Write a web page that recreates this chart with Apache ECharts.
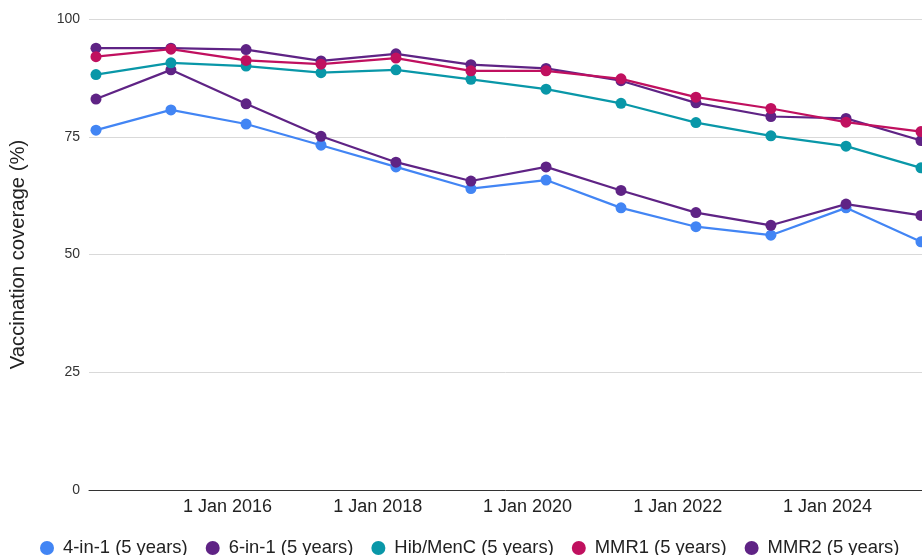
<!DOCTYPE html>
<html>
<head>
<meta charset="utf-8">
<title>Vaccination coverage at 5 years</title>
<script src="https://cdn.jsdelivr.net/npm/echarts@6/dist/echarts.min.js"></script>
<style>
  html, body { margin: 0; padding: 0; background: #ffffff; }
  #chart { width: 922px; height: 555px; }
</style>
</head>
<body>
<div id="chart"></div>
<script>
// Annual figures, recorded at the end of March each year
const periods = ['2014-03-31', '2015-03-31', '2016-03-31', '2017-03-31', '2018-03-31', '2019-03-31',
                 '2020-03-31', '2021-03-31', '2022-03-31', '2023-03-31', '2024-03-31', '2025-03-31'];

const fourInOne = [76.4, 80.7, 77.7, 73.2, 68.6, 64.0, 65.8, 59.9, 55.9, 54.1, 59.9, 52.7];
const sixInOne  = [83.0, 89.2, 82.0, 75.1, 69.6, 65.6, 68.6, 63.6, 58.9, 56.2, 60.7, 58.3];
const hibMenC   = [88.2, 90.7, 90.0, 88.6, 89.2, 87.2, 85.1, 82.1, 78.0, 75.2, 73.0, 68.4];
const mmr1      = [92.0, 93.6, 91.2, 90.4, 91.7, 89.0, 89.0, 87.3, 83.4, 81.0, 78.1, 76.1];
const mmr2      = [93.8, 93.8, 93.5, 91.1, 92.6, 90.3, 89.5, 86.9, 82.2, 79.3, 78.9, 74.2];

const seriesNames = ['4-in-1 (5 years)', '6-in-1 (5 years)', 'Hib/MenC (5 years)', 'MMR1 (5 years)', 'MMR2 (5 years)'];
const seriesValues = [fourInOne, sixInOne, hibMenC, mmr1, mmr2];
const seriesColors = ['#4285f4', '#5f2385', '#0997a8', '#c0105f', '#5f2385'];
const seriesZ = [2, 2, 2, 4, 3];

// Tick labels on the date axis (1 January of these years)
const tickYears = [2016, 2018, 2020, 2022, 2024];
const yTicks = [0, 25, 50, 75, 100];

const monthNames = ['Jan', 'Feb', 'Mar', 'Apr', 'May', 'Jun', 'Jul', 'Aug', 'Sep', 'Oct', 'Nov', 'Dec'];
const FONT = '"Liberation Sans", Arial, sans-serif';

function toMs(iso) {
  const p = iso.split('-').map(Number);
  return Date.UTC(p[0], p[1] - 1, p[2]);
}

const chart = echarts.init(document.getElementById('chart'), null, { renderer: 'canvas' });

chart.setOption({
  animation: false,
  backgroundColor: '#ffffff',
  textStyle: { fontFamily: FONT },
  grid: { left: 88, right: 0, top: 19, bottom: 65, containLabel: false },
  legend: {
    data: seriesNames,
    left: 40,
    top: 539,
    padding: 0,
    icon: 'circle',
    itemWidth: 14,
    itemHeight: 14,
    itemGap: 18,
    textStyle: { fontSize: 18.4, color: '#222222', fontFamily: FONT, padding: [0, 0, 0, 4] }
  },
  xAxis: {
    // dates as epoch milliseconds on a linear axis
    type: 'value',
    min: Date.UTC(2014, 1, 25),
    max: Date.UTC(2025, 3, 5),
    axisLine: { show: true, onZero: false, lineStyle: { color: '#333333', width: 1 } },
    axisTick: { show: false },
    splitLine: { show: false },
    axisLabel: {
      customValues: tickYears.map(y => Date.UTC(y, 0, 1)),
      formatter: function (v) {
        const d = new Date(v);
        return d.getUTCDate() + ' ' + monthNames[d.getUTCMonth()] + ' ' + d.getUTCFullYear();
      },
      fontSize: 18,
      color: '#222222',
      fontFamily: FONT,
      margin: 8
    }
  },
  yAxis: {
    type: 'value',
    min: yTicks[0],
    max: yTicks[yTicks.length - 1],
    interval: 25,
    name: 'Vaccination coverage (%)',
    nameLocation: 'middle',
    nameGap: 61,
    nameTextStyle: { fontSize: 20.3, color: '#222222', fontFamily: FONT },
    axisLine: { show: false },
    axisTick: { show: false },
    splitLine: { lineStyle: { color: '#d9d9d9', width: 1 } },
    axisLabel: { fontSize: 14, color: '#333333', fontFamily: FONT, margin: 9 }
  },
  series: seriesNames.map((name, i) => ({
    name: name,
    type: 'line',
    z: seriesZ[i],
    data: periods.map((p, j) => [toMs(p), seriesValues[i][j]]),
    symbol: 'circle',
    symbolSize: 11,
    showSymbol: true,
    clip: false,
    color: seriesColors[i],
    lineStyle: { width: 2.2, color: seriesColors[i] },
    itemStyle: { color: seriesColors[i] },
    emphasis: { disabled: true }
  }))
});
</script>
</body>
</html>
